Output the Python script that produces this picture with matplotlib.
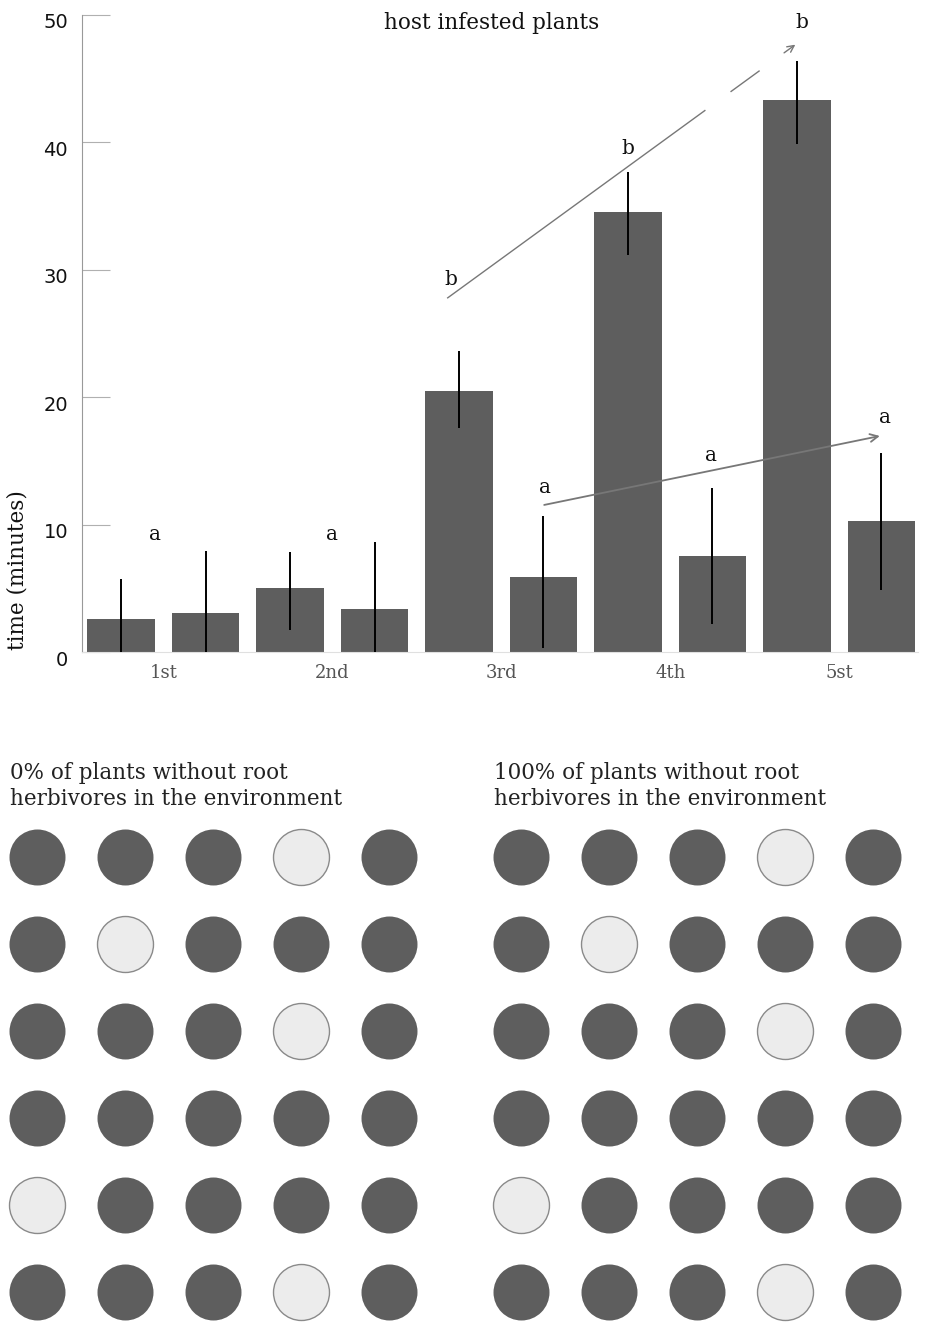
import matplotlib
matplotlib.use("Agg")
import matplotlib.pyplot as plt
import matplotlib.transforms as mtransforms
import numpy as np

# bar chart data (minutes)
groups = ["1st", "2nd", "3rd", "4th", "5st"]
series_a = [2.6, 5.0, 20.5, 34.5, 43.3]
series_a_low = [0.0, 1.7, 17.6, 31.2, 39.9]
series_a_high = [5.7, 7.85, 23.6, 37.7, 46.4]
series_b = [3.1, 3.4, 5.9, 7.5, 10.3]
series_b_low = [0.0, 0.0, 0.3, 2.2, 4.9]
series_b_high = [7.9, 8.6, 10.7, 12.9, 15.6]

# significance letters: (x, y, text)
letters_x = [-0.05, 1.0, 1.70, 2.75, 3.78, 2.26, 3.24, 4.27]
letters_y = [9.2, 9.2, 29.2, 39.5, 49.4, 12.9, 15.4, 18.4]
letters_txt = ["a", "a", "b", "b", "b", "a", "a", "a"]

# trend arrows (start, end) in data units
trend_b = [(1.683, 27.8), (3.754, 47.8)]
trend_a = [(2.238, 11.5), (4.257, 17.0)]

# dot grids: 1 = light (plant without root herbivores)
grid_left = [
    [0, 0, 0, 1, 0],
    [0, 1, 0, 0, 0],
    [0, 0, 0, 1, 0],
    [0, 0, 0, 0, 0],
    [1, 0, 0, 0, 0],
    [0, 0, 0, 1, 0],
]
grid_right = [
    [0, 0, 0, 1, 0],
    [0, 1, 0, 0, 0],
    [0, 0, 0, 1, 0],
    [0, 0, 0, 0, 0],
    [1, 0, 0, 0, 0],
    [0, 0, 0, 1, 0],
]
grid_titles = [
    "0% of plants without root\nherbivores in the environment",
    "100% of plants without root\nherbivores in the environment",
]

W, H = 949, 1328
SERIF = "DejaVu Serif"
DARK = "#5e5e5e"
LIGHT = "#ececec"

fig = plt.figure(figsize=(W / 100, H / 100), dpi=100)


def px_axes(left, top, right, bottom):
    return fig.add_axes([left / W, 1 - bottom / H, (right - left) / W, (bottom - top) / H])


# ---- bar chart ----
ax = px_axes(82, 15, 918, 652)
x = np.arange(len(groups))
off, width = 0.25, 0.40
xa, xb = x - off, x + off
ax.bar(xa, series_a, width=width, color=DARK, zorder=2)
ax.bar(xb, series_b, width=width, color=DARK, zorder=2)
ax.vlines(xa, series_a_low, series_a_high, color="black", linewidth=1.4, zorder=3)
ax.vlines(xb, series_b_low, series_b_high, color="black", linewidth=1.4, zorder=3)

ax.set_xlim(-0.482, 4.467)
ax.set_ylim(0, 50)
ax.set_yticks([0, 10, 20, 30, 40, 50])
ax.tick_params(axis="y", direction="in", length=20, width=0.8, color="#b0b0b0",
               pad=10, labelsize=14, labelcolor="#111111")
# labels sit a little below their ticks in the original
shift = mtransforms.ScaledTranslation(0, -6 / 100, fig.dpi_scale_trans)
for lbl in ax.get_yticklabels():
    lbl.set_transform(lbl.get_transform() + shift)
ax.set_xticks(x)
ax.set_xticklabels(groups, fontfamily=SERIF, fontsize=13, color="#555555")
ax.tick_params(axis="x", length=0, pad=9)
for side in ("top", "right"):
    ax.spines[side].set_visible(False)
ax.spines["left"].set_color("#999999")
ax.spines["left"].set_linewidth(0.8)
ax.spines["bottom"].set_color("#e0e0e0")
ax.spines["bottom"].set_linewidth(0.8)

for lx, ly, lt in zip(letters_x, letters_y, letters_txt):
    ax.text(lx, ly, lt, ha="center", va="center", fontsize=14.5, fontfamily=SERIF,
            color="#111111", zorder=4)

# "b" trend: line broken near the end, like the original
(bx0, by0), (bx1, by1) = trend_b
def along(t):
    return bx0 + t * (bx1 - bx0), by0 + t * (by1 - by0)
for t0, t1 in [(0.0, 0.735), (0.81, 0.89)]:
    p0, p1 = along(t0), along(t1)
    ax.plot([p0[0], p1[0]], [p0[1], p1[1]], color="#777777", linewidth=1.0, zorder=4)
ax.annotate("", xy=along(1.0), xytext=along(0.955),
            arrowprops=dict(arrowstyle="->", color="#777777", lw=1.0, mutation_scale=12), zorder=4)

(ax0, ay0), (ax1, ay1) = trend_a
ax.annotate("", xy=(ax1, ay1), xytext=(ax0, ay0),
            arrowprops=dict(arrowstyle="->", color="#777777", lw=1.3, mutation_scale=14), zorder=4)

ax.text(0.49, 0.988, "host infested plants", transform=ax.transAxes, ha="center", va="center",
        fontsize=15.5, fontfamily=SERIF, color="#111111")

fig.text(18 / W, 1 - 570 / H, "time (minutes)", rotation=90, ha="center", va="center",
         fontsize=15.5, fontfamily=SERIF, color="#111111")

# ---- dot grids ----
for i, (grid, title) in enumerate(zip([grid_left, grid_right], grid_titles)):
    x0 = 37 + 484 * i
    gax = px_axes(x0 - 37, 820, x0 - 37 + 440, H)
    grid = np.array(grid)
    rows, cols = np.indices(grid.shape)
    gax.set_xlim((0 - 37) / 88, (440 - 37) / 88)
    gax.set_ylim((H - 857) / 87, (820 - 857) / 87)
    gax.axis("off")
    dark = grid == 0
    gax.scatter(cols[dark], rows[dark], s=1625, color=DARK, linewidths=0)
    gax.scatter(cols[~dark], rows[~dark], s=1625, color=LIGHT, edgecolors="#8a8a8a",
                linewidths=1.0)
    fig.text((x0 - 27) / W, 1 - 786 / H, title, ha="left", va="center", fontsize=15.5,
             fontfamily=SERIF, color="#222222", linespacing=1.25)

fig.savefig("out.png", dpi=100, facecolor="white")
